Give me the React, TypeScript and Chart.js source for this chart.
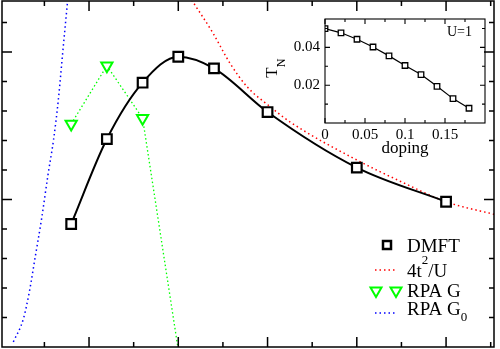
import React, { useEffect, useRef } from 'react';
import { Chart, registerables } from 'chart.js';

Chart.register(...registerables);

const FONT = '"Liberation Serif", "Times New Roman", serif';

// ---- main panel data (U on x, T_N on y, arbitrary units) ----
const dmftU = [0.8, 1.2, 1.6, 2.0, 2.4, 3.0, 4.0, 5.0];
const dmftTN = [0.834, 1.41, 1.792, 1.968, 1.889, 1.593, 1.216, 0.985];

const heisU = [2.15, 2.39, 2.58, 2.77, 3.03, 3.25, 4.0, 4.5, 5.0, 5.57];
const heisTN = [2.353, 2.127, 1.923, 1.765, 1.629, 1.527, 1.268, 1.12, 0.985, 0.895];

const rpaGU = [0.8, 1.2, 1.6, 2.0];
const rpaGTN = [1.512, 1.907, 1.551, -0.02];

const rpaG0U = [0.152, 0.264, 0.331, 0.395, 0.47, 0.54, 0.602, 0.656, 0.708, 0.761];
const rpaG0TN = [0.034, 0.19, 0.373, 0.603, 0.875, 1.166, 1.403, 1.675, 2.014, 2.353];

const mainXMajor = [1, 2, 3, 4, 5];
const mainXMinor = [0.5, 1.5, 2.5, 3.5, 4.5, 5.5];
const mainYMajor = [1, 2];
const mainYMinor = [0.2, 0.4, 0.6, 0.8, 1.2, 1.4, 1.6, 1.8, 2.2];

const legendLabels = ['DMFT', '4t', '2', '/U', 'RPA G', 'RPA G', '0'];

// ---- inset data ----
const dopingX = [0, 0.02, 0.04, 0.06, 0.08, 0.1, 0.12, 0.14, 0.16, 0.18];
const insetTN = [0.0499, 0.0477, 0.0443, 0.0402, 0.0355, 0.0304, 0.0256, 0.0194, 0.0129, 0.0078];

const insetXTicks = [0, 0.05, 0.1, 0.15];
const insetXTickLabels = ['0', '0.05', '0.1', '0.15'];
const insetXMinor = [0.025, 0.075, 0.125, 0.175];
const insetYTicks = [0.02, 0.04];
const insetYTickLabels = ['0.02', '0.04'];
const insetYMinor = [0.01, 0.03, 0.05];

const RED = '#ff0000';
const BLUE = '#0000ff';
const GREEN = '#00ff00';

function pts(xs: number[], ys: number[]) {
  return xs.map((x, i) => ({ x, y: ys[i] }));
}

function drawTicks(chart: any, xMaj: number[], xMin: number[], yMaj: number[], yMin: number[], maj: number, min: number, lw: number) {
  const { ctx, chartArea: a, scales } = chart;
  const sx = scales.x;
  const sy = scales.y;
  ctx.save();
  ctx.strokeStyle = '#000';
  ctx.lineWidth = lw;
  ctx.setLineDash([]);
  ctx.beginPath();
  const vx = (v: number, len: number) => {
    const p = sx.getPixelForValue(v);
    ctx.moveTo(p, a.bottom);
    ctx.lineTo(p, a.bottom - len);
    ctx.moveTo(p, a.top);
    ctx.lineTo(p, a.top + len);
  };
  const vy = (v: number, len: number) => {
    const p = sy.getPixelForValue(v);
    ctx.moveTo(a.left, p);
    ctx.lineTo(a.left + len, p);
    ctx.moveTo(a.right, p);
    ctx.lineTo(a.right - len, p);
  };
  xMaj.forEach((v) => vx(v, maj));
  xMin.forEach((v) => vx(v, min));
  yMaj.forEach((v) => vy(v, maj));
  yMin.forEach((v) => vy(v, min));
  ctx.stroke();
  ctx.strokeRect(a.left, a.top, a.right - a.left, a.bottom - a.top);
  ctx.restore();
}

const mainDecor = {
  id: 'mainDecor',
  afterDatasetsDraw(chart: any) {
    drawTicks(chart, mainXMajor, mainXMinor, mainYMajor, mainYMinor, 10, 5, 1.5);
    const ctx = chart.ctx;
    ctx.save();
    ctx.textAlign = 'left';
    ctx.textBaseline = 'alphabetic';
    ctx.fillStyle = '#000';
    const big = `19px ${FONT}`;
    const small = `13px ${FONT}`;
    const tx = 407;
    // DMFT
    ctx.strokeStyle = '#000';
    ctx.lineWidth = 2.5;
    ctx.strokeRect(383, 241, 8, 8);
    ctx.font = big;
    ctx.fillText(legendLabels[0], tx, 252);
    // 4t^2/U
    ctx.strokeStyle = RED;
    ctx.lineWidth = 1.5;
    ctx.setLineDash([1.5, 3]);
    ctx.beginPath();
    ctx.moveTo(375, 270);
    ctx.lineTo(397, 270);
    ctx.stroke();
    ctx.setLineDash([]);
    ctx.font = big;
    ctx.fillText(legendLabels[1], tx, 277);
    let w = ctx.measureText(legendLabels[1]).width;
    ctx.font = small;
    ctx.fillText(legendLabels[2], tx + w, 264);
    w += ctx.measureText(legendLabels[2]).width;
    ctx.font = big;
    ctx.fillText(legendLabels[3], tx + w, 277);
    // RPA G triangles
    ctx.strokeStyle = GREEN;
    ctx.lineWidth = 2;
    [376, 396].forEach((cx) => {
      const cy = 291;
      ctx.beginPath();
      ctx.moveTo(cx, cy + 6);
      ctx.lineTo(cx - 5.5, cy - 3.5);
      ctx.lineTo(cx + 5.5, cy - 3.5);
      ctx.closePath();
      ctx.stroke();
    });
    ctx.font = big;
    ctx.fillText(legendLabels[4], tx, 297);
    // RPA G0
    ctx.strokeStyle = BLUE;
    ctx.lineWidth = 1.5;
    ctx.setLineDash([1.5, 3]);
    ctx.beginPath();
    ctx.moveTo(375, 313);
    ctx.lineTo(397, 313);
    ctx.stroke();
    ctx.setLineDash([]);
    ctx.font = big;
    ctx.fillText(legendLabels[5], tx, 315);
    w = ctx.measureText(legendLabels[5]).width;
    ctx.font = small;
    ctx.fillText(legendLabels[6], tx + w, 321);
    ctx.restore();
  },
};

const insetDecor = {
  id: 'insetDecor',
  afterDatasetsDraw(chart: any) {
    drawTicks(chart, insetXTicks, insetXMinor, insetYTicks, insetYMinor, 5, 3, 1.1);
    const ctx = chart.ctx;
    ctx.save();
    ctx.fillStyle = '#000';
    // U=1
    ctx.font = `14px ${FONT}`;
    ctx.textAlign = 'left';
    ctx.textBaseline = 'alphabetic';
    ctx.fillText('U=1', 192, 31);
    // T_N rotated
    ctx.translate(17.5, 67.5);
    ctx.rotate(-Math.PI / 2);
    ctx.textAlign = 'center';
    ctx.textBaseline = 'middle';
    ctx.font = `17px ${FONT}`;
    ctx.fillText('T', 0, 0);
    ctx.font = `12px ${FONT}`;
    ctx.fillText('N', 9.5, 9.5);
    ctx.restore();
  },
};

export default function App() {
  const mainRef = useRef<HTMLCanvasElement>(null);
  const insetRef = useRef<HTMLCanvasElement>(null);

  useEffect(() => {
    const main = new Chart(mainRef.current as HTMLCanvasElement, {
      type: 'line',
      data: {
        datasets: [
          {
            label: 'DMFT',
            data: pts(dmftU, dmftTN),
            borderColor: '#000',
            borderWidth: 2,
            cubicInterpolationMode: 'monotone',
            pointStyle: 'rect',
            pointRadius: 6.8,
            pointBorderWidth: 2.2,
            pointBorderColor: '#000',
            pointBackgroundColor: '#fff',
            fill: false,
          },
          {
            label: '4t2/U',
            data: pts(heisU, heisTN),
            borderColor: RED,
            borderWidth: 1.5,
            borderDash: [1.5, 3],
            cubicInterpolationMode: 'monotone',
            pointRadius: 0,
            fill: false,
          },
          {
            label: 'RPA G',
            data: pts(rpaGU, rpaGTN),
            borderColor: GREEN,
            borderWidth: 1.3,
            borderDash: [1.5, 2.5],
            pointStyle: 'triangle',
            rotation: 180,
            pointRadius: [6.5, 6.5, 6.5, 0],
            pointBorderWidth: 2,
            pointBorderColor: GREEN,
            pointBackgroundColor: '#fff',
            fill: false,
          },
          {
            label: 'RPA G0',
            data: pts(rpaG0U, rpaG0TN),
            borderColor: BLUE,
            borderWidth: 1.5,
            borderDash: [1.5, 3],
            cubicInterpolationMode: 'monotone',
            pointRadius: 0,
            fill: false,
          },
        ],
      },
      options: {
        animation: false,
        responsive: false,
        layout: { autoPadding: false, padding: { left: 2, right: 6, top: 1, bottom: 2 } },
        plugins: { legend: { display: false }, tooltip: { enabled: false } },
        scales: {
          x: { type: 'linear', min: 0.025, max: 5.537, display: false },
          y: { type: 'linear', min: 0, max: 2.346, display: false },
        },
      },
      plugins: [mainDecor],
    } as any);

    const inset = new Chart(insetRef.current as HTMLCanvasElement, {
      type: 'line',
      data: {
        datasets: [
          {
            label: 'T_N',
            data: pts(dopingX, insetTN),
            borderColor: '#000',
            borderWidth: 1.2,
            pointStyle: 'rect',
            pointRadius: 3.9,
            pointBorderWidth: 1.3,
            pointBorderColor: '#000',
            pointBackgroundColor: '#fff',
            fill: false,
          },
        ],
      },
      options: {
        animation: false,
        responsive: false,
        layout: { autoPadding: false, padding: { left: 25, right: 5, top: 10, bottom: 6 } },
        plugins: { legend: { display: false }, tooltip: { enabled: false } },
        scales: {
          x: {
            type: 'linear',
            min: 0,
            max: 0.2,
            afterFit: (s: any) => {
              s.height = 36;
            },
            afterBuildTicks: (s: any) => {
              s.ticks = insetXTicks.map((v) => ({ value: v }));
            },
            grid: { display: false, drawTicks: false },
            border: { display: false },
            ticks: {
              autoSkip: false,
              maxRotation: 0,
              padding: 3,
              color: '#000',
              font: { family: FONT, size: 15 },
              callback: (_v: any, i: number) => insetXTickLabels[i],
            },
            title: {
              display: true,
              text: 'doping',
              color: '#000',
              font: { family: FONT, size: 17 },
              padding: 0,
            },
          },
          y: {
            type: 'linear',
            min: 0,
            max: 0.055,
            afterFit: (s: any) => {
              s.width = 45;
            },
            afterBuildTicks: (s: any) => {
              s.ticks = insetYTicks.map((v) => ({ value: v }));
            },
            grid: { display: false, drawTicks: false },
            border: { display: false },
            ticks: {
              autoSkip: false,
              padding: 5,
              color: '#000',
              font: { family: FONT, size: 15 },
              callback: (_v: any, i: number) => insetYTickLabels[i],
            },
          },
        },
      },
      plugins: [insetDecor],
    } as any);

    return () => {
      main.destroy();
      inset.destroy();
    };
  }, []);

  return (
    <div style={{ position: 'absolute', left: 0, top: 0, width: 500, height: 349, background: '#fff' }}>
      <canvas
        ref={mainRef}
        width={500}
        height={349}
        style={{ position: 'absolute', left: 0, top: 0, width: 500, height: 349 }}
      />
      <canvas
        ref={insetRef}
        width={235}
        height={160}
        style={{ position: 'absolute', left: 255, top: 5, width: 235, height: 160 }}
      />
    </div>
  );
}
